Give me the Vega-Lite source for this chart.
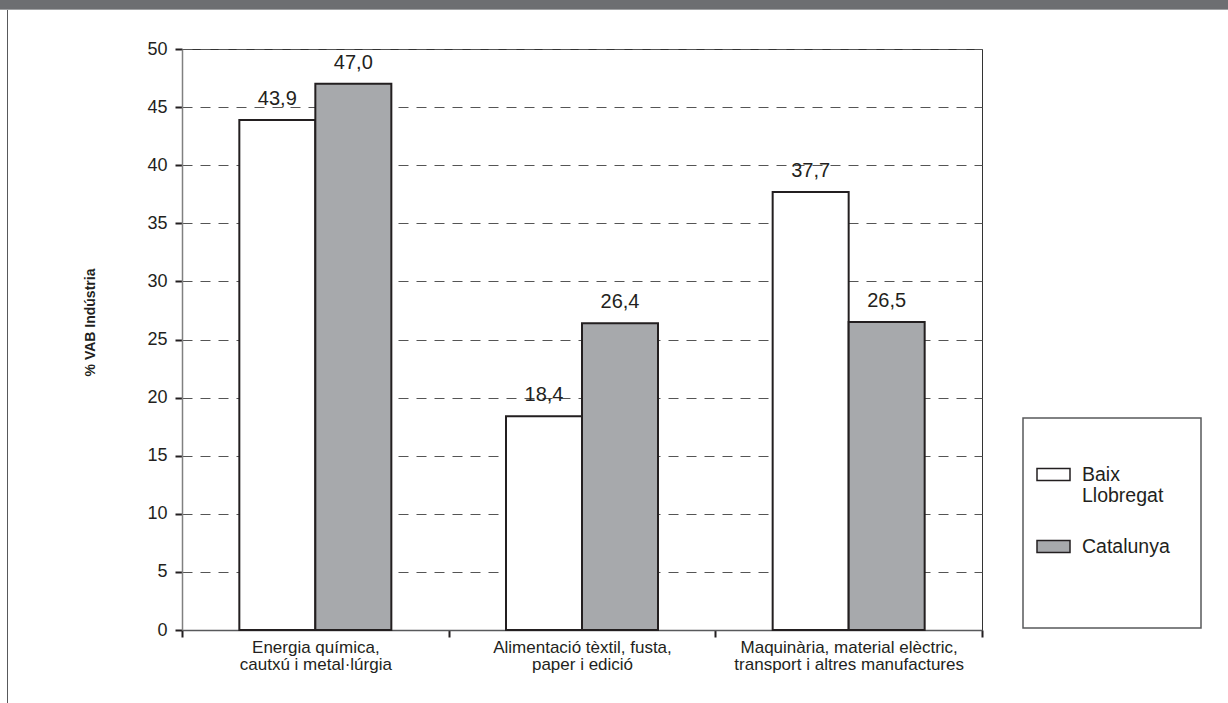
{
  "$schema": "https://vega.github.io/schema/vega-lite/v6.json",
  "padding": 0,
  "background": "white",
  "spacing": 0,
  "config": {
    "font": "Liberation Sans",
    "view": {"stroke": null},
    "locale": {"number": {"decimal": ",", "thousands": ".", "grouping": [3], "currency": ["", " €"]}},
    "concat": {"spacing": 0}
  },
  "vconcat": [
    {"width": 1228, "height": 9, "data": {"values": []}, "mark": "rect", "view": {"fill": "#6d6e71", "stroke": null}},
    {"width": 1228, "height": 1, "data": {"values": []}, "mark": "rect", "view": {"fill": "#a0a1a3", "stroke": null}},
    {
      "spacing": 0,
      "hconcat": [
        {"width": 7, "height": 693, "data": {"values": []}, "mark": "rect", "view": {"stroke": null}},
        {"width": 1, "height": 693, "data": {"values": []}, "mark": "rect", "view": {"fill": "#58595b", "stroke": null}},
        {"width": 75, "height": 693, "data": {"values": []}, "mark": "rect", "view": {"stroke": null}},
        {
          "spacing": 0,
          "vconcat": [
            {"width": 800, "height": 29, "data": {"values": []}, "mark": "rect", "view": {"stroke": null}},
            {
              "width": 800,
              "height": 581,
              "view": {"stroke": "#333333", "strokeWidth": 1},
              "data": {"values": [
                {"sector": "Energia química, cautxú i metal·lúrgia", "region": "Baix Llobregat", "value": 43.9},
                {"sector": "Energia química, cautxú i metal·lúrgia", "region": "Catalunya", "value": 47.0},
                {"sector": "Alimentació tèxtil, fusta, paper i edició", "region": "Baix Llobregat", "value": 18.4},
                {"sector": "Alimentació tèxtil, fusta, paper i edició", "region": "Catalunya", "value": 26.4},
                {"sector": "Maquinària, material elèctric, transport i altres manufactures", "region": "Baix Llobregat", "value": 37.7},
                {"sector": "Maquinària, material elèctric, transport i altres manufactures", "region": "Catalunya", "value": 26.5}
              ]},
              "encoding": {
                "x": {
                  "field": "sector", "type": "nominal", "sort": null,
                  "scale": {"paddingInner": 0, "paddingOuter": 0},
                  "axis": {
                    "title": null, "labelAngle": 0, "tickBand": "extent",
                    "domainColor": "#58595b", "domainWidth": 1.5,
                    "tickColor": "#231f20", "tickWidth": 2, "tickSize": 7,
                    "labelFontSize": 17, "labelColor": "#231f20", "labelPadding": 2,
                    "labelLineHeight": 17, "labelLimit": 400, "labelBaseline": "top",
                    "labelExpr": "[slice(datum.label, 0, lastindexof(datum.label, ', ') + 1), slice(datum.label, lastindexof(datum.label, ', ') + 2)]"
                  }
                },
                "xOffset": {
                  "field": "region", "type": "nominal",
                  "scale": {"paddingInner": 0, "paddingOuter": 0.7544}
                },
                "y": {
                  "field": "value", "type": "quantitative",
                  "scale": {"domain": [0, 50], "nice": false},
                  "axis": {
                    "values": [0, 5, 10, 15, 20, 25, 30, 35, 40, 45, 50],
                    "title": "% VAB Indústria", "titleFontSize": 14, "titleFontWeight": "bold",
                    "titleColor": "#231f20", "titlePadding": 49, "titleY": 273,
                    "grid": true, "gridDash": [10, 8], "gridColor": "#555555", "gridWidth": 1,
                    "domainColor": "#808080", "domainWidth": 1.5,
                    "tickColor": "#231f20", "tickWidth": 2, "tickSize": 7,
                    "labelFontSize": 18, "labelColor": "#231f20", "labelPadding": 8
                  }
                }
              },
              "layer": [
                {
                  "mark": {"type": "bar", "stroke": "#231f20", "strokeWidth": 2},
                  "encoding": {
                    "color": {
                      "field": "region", "type": "nominal",
                      "scale": {"domain": ["Baix Llobregat", "Catalunya"], "range": ["#ffffff", "#a7a9ac"]},
                      "legend": {
                        "title": null, "orient": "none", "legendX": 1036, "legendY": 457,
                        "padding": 0,
                        "symbolType": "M-1,-0.36H1V0.36H-1Z", "symbolSize": 1089,
                        "symbolStrokeColor": "#231f20", "symbolStrokeWidth": 1.5,
                        "labelFontSize": 19.5, "labelColor": "#231f20", "labelOffset": 11,
                        "labelLineHeight": 21, "rowPadding": 23,
                        "labelExpr": "split(datum.label, ' ')"
                      }
                    }
                  }
                },
                {
                  "mark": {"type": "text", "baseline": "alphabetic", "dy": -15, "fontSize": 20, "color": "#231f20"},
                  "encoding": {
                    "text": {"field": "value", "type": "quantitative", "format": ".1f"}
                  }
                }
              ]
            }
          ]
        },
        {"width": 38, "height": 693, "data": {"values": []}, "mark": "rect", "view": {"stroke": null}},
        {
          "spacing": 0,
          "vconcat": [
            {"width": 178, "height": 407, "data": {"values": []}, "mark": "rect", "view": {"stroke": null}},
            {"width": 178, "height": 210, "data": {"values": []}, "mark": "rect", "view": {"stroke": "#58595b", "strokeWidth": 1.5, "fill": "white"}}
          ]
        }
      ]
    }
  ]
}
